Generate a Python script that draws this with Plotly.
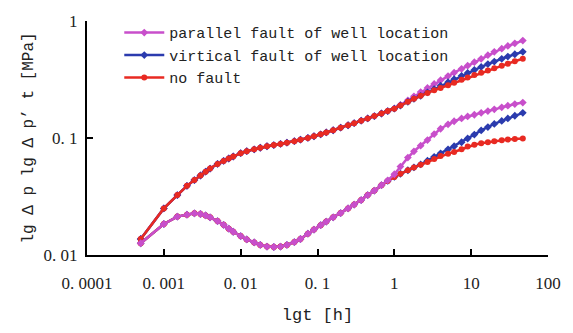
import plotly.graph_objects as go

# time [h]
t = [0.0005, 0.001, 0.0015, 0.002, 0.0025, 0.003, 0.0035, 0.004, 0.005, 0.006,
     0.007, 0.008, 0.01, 0.012, 0.015, 0.018, 0.022, 0.027, 0.033, 0.04,
     0.05, 0.06, 0.075, 0.09, 0.11, 0.13, 0.16, 0.2, 0.25, 0.3,
     0.37, 0.45, 0.55, 0.68, 0.82, 1.0, 1.2, 1.5, 1.8, 2.2,
     2.7, 3.3, 4, 5, 6, 7.5, 9, 11, 13.5, 16.5,
     20, 25, 30, 37, 47]

# pressure (upper curves)
red_p = [0.0137, 0.0250, 0.0325, 0.0390, 0.0437, 0.0478, 0.0515, 0.0548, 0.0600, 0.0637,
         0.0668, 0.0695, 0.0742, 0.0772, 0.0800, 0.0825, 0.0850, 0.0870, 0.0890, 0.0912,
         0.0940, 0.0968, 0.1002, 0.1035, 0.1075, 0.1115, 0.1165, 0.1225, 0.1285, 0.1340,
         0.1405, 0.1470, 0.1540, 0.1620, 0.1700, 0.1780, 0.1895, 0.2040, 0.2160, 0.2295,
         0.2430, 0.2560, 0.2680, 0.2830, 0.2970, 0.3140, 0.3290, 0.3450, 0.3620, 0.3780,
         0.3950, 0.4150, 0.4320, 0.4530, 0.4760]
pink_p = [0.0137, 0.0250, 0.0325, 0.0390, 0.0437, 0.0478, 0.0515, 0.0548, 0.0600, 0.0637,
          0.0668, 0.0695, 0.0742, 0.0772, 0.0800, 0.0825, 0.0850, 0.0870, 0.0890, 0.0912,
          0.0940, 0.0968, 0.1002, 0.1035, 0.1075, 0.1115, 0.1165, 0.1225, 0.1285, 0.1340,
          0.1405, 0.1470, 0.1540, 0.1620, 0.1700, 0.1790, 0.1920, 0.2100, 0.2270, 0.2470,
          0.2680, 0.2900, 0.3120, 0.3380, 0.3620, 0.3900, 0.4150, 0.4450, 0.4750, 0.5100,
          0.5450, 0.5800, 0.6120, 0.6450, 0.6800]
blue_p = [0.0137, 0.0250, 0.0325, 0.0390, 0.0437, 0.0478, 0.0515, 0.0548, 0.0600, 0.0637,
          0.0668, 0.0695, 0.0742, 0.0772, 0.0800, 0.0825, 0.0850, 0.0870, 0.0890, 0.0912,
          0.0940, 0.0968, 0.1002, 0.1035, 0.1075, 0.1115, 0.1165, 0.1225, 0.1285, 0.1340,
          0.1405, 0.1470, 0.1540, 0.1620, 0.1700, 0.1780, 0.1895, 0.2040, 0.2160, 0.2295,
          0.2450, 0.2620, 0.2800, 0.3000, 0.3180, 0.3400, 0.3600, 0.3820, 0.4050, 0.4280,
          0.4500, 0.4750, 0.4970, 0.5200, 0.5450]

# pressure derivative (lower curves)
red_d = [0.0126, 0.0184, 0.0213, 0.0221, 0.0227, 0.0224, 0.0218, 0.0210, 0.0195, 0.0181,
         0.0168, 0.0158, 0.0145, 0.0136, 0.0128, 0.0122, 0.0118, 0.0117, 0.0118, 0.0122,
         0.0129, 0.0137, 0.0152, 0.0165, 0.0180, 0.0193, 0.0210, 0.0228, 0.0250, 0.0270,
         0.0295, 0.0325, 0.0355, 0.0395, 0.0430, 0.0465, 0.0495, 0.0530, 0.0560, 0.0590,
         0.0625, 0.0660, 0.0700, 0.0735, 0.0760, 0.0800, 0.0845, 0.0875, 0.0900, 0.0920,
         0.0940, 0.0955, 0.0970, 0.0980, 0.0992]
pink_d = [0.0126, 0.0184, 0.0213, 0.0221, 0.0227, 0.0224, 0.0218, 0.0210, 0.0195, 0.0181,
          0.0168, 0.0158, 0.0145, 0.0136, 0.0128, 0.0122, 0.0118, 0.0117, 0.0118, 0.0122,
          0.0129, 0.0137, 0.0152, 0.0165, 0.0180, 0.0193, 0.0210, 0.0228, 0.0250, 0.0270,
          0.0295, 0.0325, 0.0355, 0.0395, 0.0435, 0.0490, 0.0570, 0.0680, 0.0770, 0.0860,
          0.0960, 0.1080, 0.1200, 0.1310, 0.1390, 0.1470, 0.1530, 0.1580, 0.1640, 0.1700,
          0.1760, 0.1830, 0.1890, 0.1950, 0.2010]
blue_d = [0.0126, 0.0184, 0.0213, 0.0221, 0.0227, 0.0224, 0.0218, 0.0210, 0.0195, 0.0181,
          0.0168, 0.0158, 0.0145, 0.0136, 0.0128, 0.0122, 0.0118, 0.0117, 0.0118, 0.0122,
          0.0129, 0.0137, 0.0152, 0.0165, 0.0180, 0.0193, 0.0210, 0.0228, 0.0250, 0.0270,
          0.0295, 0.0325, 0.0355, 0.0395, 0.0430, 0.0465, 0.0495, 0.0530, 0.0560, 0.0595,
          0.0640, 0.0690, 0.0740, 0.0800, 0.0850, 0.0920, 0.0990, 0.1070, 0.1160, 0.1240,
          0.1320, 0.1400, 0.1470, 0.1550, 0.1640]

names = ["parallel fault of well location", "virtical fault of well location", "no fault"]
PINK, BLUE, RED = "#C84FCB", "#2B3BAE", "#E82A22"

x_tickvals = [0.0001, 0.001, 0.01, 0.1, 1, 10, 100]
x_ticktext = ["0. 0001", "0. 001", "0. 01", "0. 1", "1", "10", "100"]
y_tickvals = [0.01, 0.1, 1]
y_ticktext = ["0. 01", "0. 1", "1"]

fig = go.Figure()

def add(y, color, symbol, name=None, rank=None):
    fig.add_trace(go.Scatter(
        x=t, y=y, mode="lines+markers",
        line=dict(color=color, width=2.5),
        marker=dict(color=color, size=6, symbol=symbol),
        name=name if name else "",
        showlegend=name is not None,
        legendrank=rank if rank else 1000,
    ))

# upper curves: red drawn on top
add(pink_p, PINK, "diamond")
add(blue_p, BLUE, "diamond")
add(red_p, RED, "circle", names[2], 3)
# lower curves: red over blue, pink on top
add(blue_d, BLUE, "diamond", names[1], 2)
add(red_d, RED, "circle")
add(pink_d, PINK, "diamond", names[0], 1)

axis_common = dict(
    showline=True, linecolor="black", linewidth=2,
    ticks="inside", ticklen=6, tickwidth=2, tickcolor="black",
    showgrid=False, zeroline=False, mirror=False,
    tickfont=dict(family="Liberation Serif", size=17, color="#222"),
)

fig.update_layout(
    width=573, height=333,
    paper_bgcolor="white", plot_bgcolor="white",
    margin=dict(l=87, r=18, t=16, b=75),
    xaxis=dict(type="log", range=[-4, 2], tickmode="array",
               tickvals=x_tickvals, ticktext=x_ticktext,
               ticklabelstandoff=12,
               title=dict(text="lgt [h]", standoff=16,
                          font=dict(family="Liberation Mono", size=17, color="#222")),
               **axis_common),
    yaxis=dict(type="log", range=[-2, 0], tickmode="array",
               tickvals=y_tickvals, ticktext=y_ticktext,
               ticklabelstandoff=4,
               title=dict(text="lg Δ p lg Δ p’ t [MPa]", standoff=6,
                          font=dict(family="Liberation Mono", size=16, color="#222")),
               **axis_common),
    legend=dict(x=0.07, y=1.02, xanchor="left", yanchor="top",
                bgcolor="rgba(0,0,0,0)", borderwidth=0,
                font=dict(family="Liberation Mono", size=15, color="#222"),
                tracegroupgap=0, itemwidth=40),
    showlegend=True,
)

fig.write_html("out.html")
